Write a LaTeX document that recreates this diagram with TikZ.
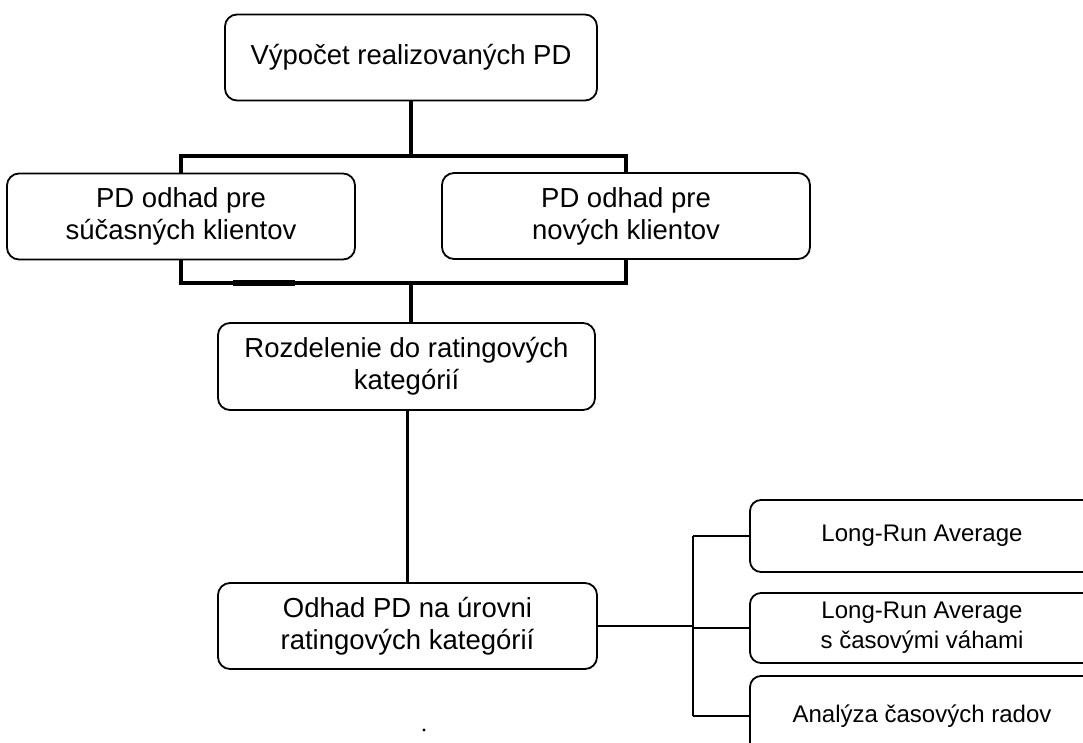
\documentclass[tikz,border=0pt]{standalone}
\usepackage{fontspec}
\setmainfont{Liberation Sans}
\begin{document}
\begin{tikzpicture}[x=1pt,y=-1pt,
  bigbox/.style={draw=black,line width=1.8pt,rounded corners=12pt,fill=white,
    inner sep=0pt,align=center,font=\fontsize{27.5}{32}\selectfont},
  smallbox/.style={draw=black,line width=1.8pt,rounded corners=11pt,fill=white,
    inner sep=0pt,align=center,font=\fontsize{24}{30}\selectfont,
    minimum width=344pt},
  mainline/.style={draw=black,line width=3.6pt},
  thinline/.style={draw=black,line width=2pt}]
\useasboundingbox (0,0) rectangle (1083,743);
\clip (0,0) rectangle (1083,743);
\fill[white] (0,0) rectangle (1083,743);

% connector helper coordinates
\coordinate (bt) at (411,156);
\coordinate (bb) at (411,283);
\coordinate (rb) at (693,626);

% nodes
\node[bigbox,minimum width=372pt,minimum height=86pt] (top) at (411,57.5) {Výpočet realizovaných PD};
\node[bigbox,minimum width=348pt,minimum height=86pt] (left) at (181,216.5) {PD odhad pre\\súčasných klientov};
\node[bigbox,minimum width=368pt,minimum height=86pt] (right) at (626,216) {PD odhad pre\\nových klientov};
\node[bigbox,minimum width=377pt,minimum height=87pt] (rozd) at (406.5,366.5) {Rozdelenie do ratingových\\kategórií};
\node[bigbox,minimum width=379pt,minimum height=86pt] (odhad) at (407.5,626) {Odhad PD na úrovni\\ratingových kategórií};
\node[smallbox,minimum height=72pt] (lra1) at (922,536) {\raisebox{-2pt}{Long-Run Average}};
\node[smallbox,minimum height=70pt] (lra2) at (922,628) {\raisebox{-3pt}{Long-Run Average}\\\raisebox{-3pt}{s časovými váhami}};
\node[smallbox,minimum height=80pt] (ana) at (922,716) {\raisebox{3pt}{Analýza časových radov}};

% connectors
\draw[mainline] (top.south) -- (bt);
\draw[mainline] (left.north) -- (left.north |- bt) -| (right.north);
\draw[mainline,line width=3.2pt] (left.south) -- (left.south |- bb) -| (right.south);
\draw[line width=5.5pt] (233,283) -- (295,283);
\draw[mainline] (bb) -- (bb |- rozd.north);
\draw[mainline] (odhad.north |- rozd.south) -- (odhad.north);
\draw[thinline] (odhad.east) -- (odhad.east -| rb);
\draw[thinline] (rb |- lra1.west) -- (rb |- ana.west);
\draw[thinline] (rb |- lra1.west) -- (lra1.west);
\draw[thinline] (rb |- lra2.west) -- (lra2.west);
\draw[thinline] (rb |- ana.west) -- (ana.west);

% stray dot
\fill (424,730) circle (1.6pt);
\end{tikzpicture}
\end{document}
